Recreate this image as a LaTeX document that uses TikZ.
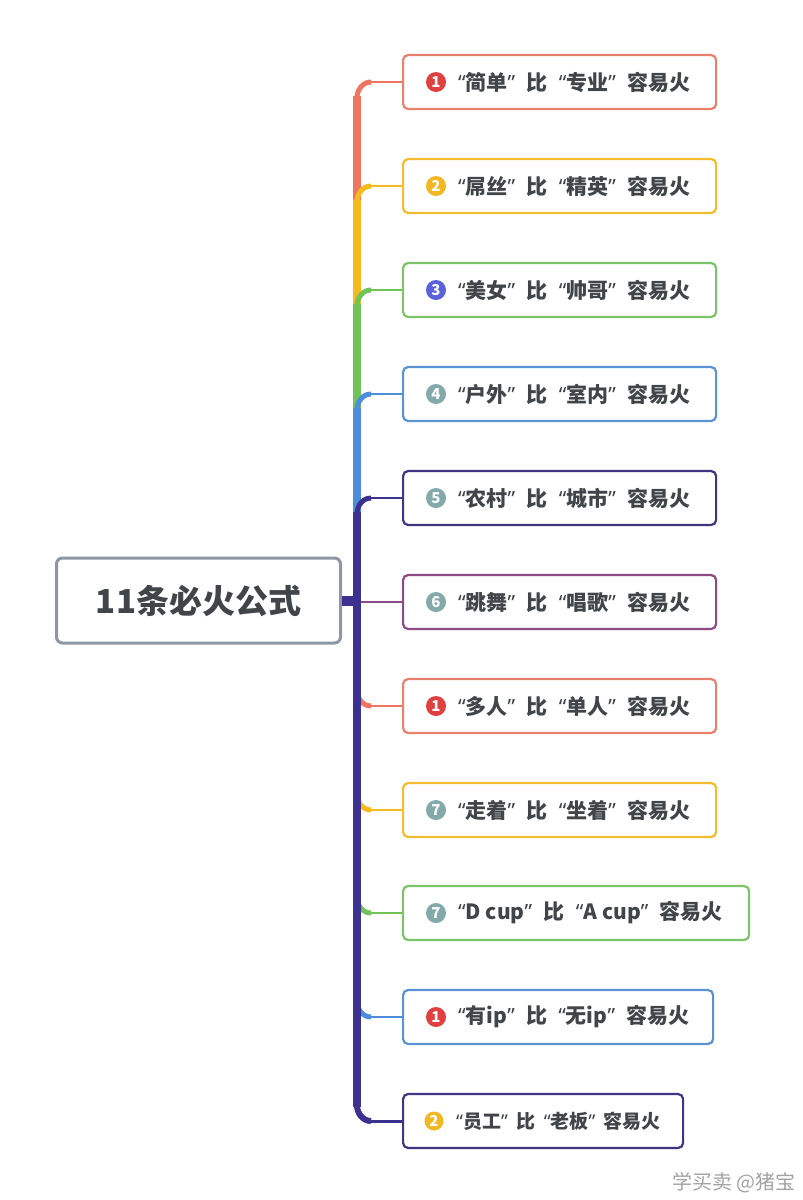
\documentclass[tikz,border=0pt]{standalone}
\usepackage{fontspec}
\setmainfont{Noto Sans CJK SC}
\newfontfamily\qf{Noto Sans}
\newcommand\oq{{\qf\bfseries “}}
\newcommand\cq{{\qf\bfseries ”}}
\newcommand\gp{\hspace{11.3pt}}
\newcommand\gs{\hspace{8.5pt}}
\definecolor{cred}{HTML}{F07560}
\definecolor{cyel}{HTML}{F6BA1A}
\definecolor{cgrn}{HTML}{72C25A}
\definecolor{cblu}{HTML}{4C8EDC}
\definecolor{cind}{HTML}{3D3190}
\definecolor{cmag}{HTML}{8C4A86}
\definecolor{bred}{HTML}{E8806E}
\definecolor{byel}{HTML}{F2BC2F}
\definecolor{bgrn}{HTML}{7DC36A}
\definecolor{bblu}{HTML}{5B93D0}
\definecolor{bind}{HTML}{3F3580}
\definecolor{rootgray}{HTML}{8D97A2}
\definecolor{txt}{HTML}{41454A}
\definecolor{ired}{HTML}{E0403F}
\definecolor{iyel}{HTML}{F2B824}
\definecolor{ivio}{HTML}{5962DB}
\definecolor{iteal}{HTML}{84A9AA}
\definecolor{wm}{HTML}{A3A3A3}
\begin{document}
\begin{tikzpicture}[x=1pt,y=-1pt,
  box/.style={draw=#1, line width=2.2pt, rounded corners=5pt, fill=white, minimum height=54pt, anchor=west, inner sep=0pt},
  icon/.style={circle, fill=#1, text=white, minimum size=20pt, inner sep=0pt, font=\bfseries\fontsize{15}{15}\selectfont},
  lbl/.style={anchor=west, inner sep=0pt, text=txt, font=\bfseries\fontsize{21}{21}\selectfont},
  trunk/.style={line width=8pt, draw=#1},
  bend/.style={line width=5pt, draw=#1},
  twig/.style={line width=2.6pt, draw=#1}]
\useasboundingbox (0,0) rectangle (803,1200);
\fill[white] (0,0) rectangle (803,1200);

% nodes
\node[draw=rootgray, line width=3pt, rounded corners=6pt, minimum width=284pt, minimum height=85pt, anchor=west, inner sep=0pt, fill=white, text=txt, font=\bfseries\fontsize{33}{33}\selectfont] (root) at (55,600.5) {11条必火公式};

\node[box=bred, minimum width=313pt] (b1) at (402,82) {};
\node[box=byel, minimum width=313pt] (b2) at (402,186) {};
\node[box=bgrn, minimum width=313pt] (b3) at (402,290) {};
\node[box=bblu, minimum width=313pt] (b4) at (402,394) {};
\node[box=bind, minimum width=313pt] (b5) at (402,498) {};
\node[box=cmag, minimum width=313pt] (b6) at (402,602) {};
\node[box=bred, minimum width=313pt] (b7) at (402,706) {};
\node[box=byel, minimum width=313pt] (b8) at (402,810) {};
\node[box=bgrn, minimum width=346pt] (b9) at (402,913) {};
\node[box=bblu, minimum width=310pt] (b10) at (402,1017) {};
\node[box=bind, minimum width=280pt] (b11) at (402,1121) {};

\node[icon=ired] (i1) at (436,82) {1};
\node[icon=iyel] (i2) at (436,186) {2};
\node[icon=ivio] (i3) at (436,290) {3};
\node[icon=iteal] (i4) at (436,394) {4};
\node[icon=iteal] (i5) at (436,498) {5};
\node[icon=iteal] (i6) at (436,602) {6};
\node[icon=ired] (i7) at (436,706) {1};
\node[icon=iteal] (i8) at (436,810) {7};
\node[icon=iteal] (i9) at (436,913) {7};
\node[icon=ired] (i10) at (436,1017) {1};
\node[icon=iyel, minimum size=19pt] (i11) at (434,1121) {2};

\node[lbl] (t1) at (458,82) {\oq 简单\cq\gp 比\gp\oq 专业\cq\gp 容易火};
\node[lbl] (t2) at (458,186) {\oq 屌丝\cq\gp 比\gp\oq 精英\cq\gp 容易火};
\node[lbl] (t3) at (458,290) {\oq 美女\cq\gp 比\gp\oq 帅哥\cq\gp 容易火};
\node[lbl] (t4) at (458,394) {\oq 户外\cq\gp 比\gp\oq 室内\cq\gp 容易火};
\node[lbl] (t5) at (458,498) {\oq 农村\cq\gp 比\gp\oq 城市\cq\gp 容易火};
\node[lbl] (t6) at (458,602) {\oq 跳舞\cq\gp 比\gp\oq 唱歌\cq\gp 容易火};
\node[lbl] (t7) at (458,706) {\oq 多人\cq\gp 比\gp\oq 单人\cq\gp 容易火};
\node[lbl] (t8) at (458,810) {\oq 走着\cq\gp 比\gp\oq 坐着\cq\gp 容易火};
\node[lbl] (t9) at (458,913) {\oq D cup\cq\gp 比\gp\oq A cup\cq\gp 容易火};
\node[lbl] (t10) at (458,1017) {\oq 有ip\cq\gp 比\gp\oq 无ip\cq\gp 容易火};
\node[lbl, font=\bfseries\fontsize{19}{19}\selectfont] (t11) at (456,1121) {\oq 员工\cq\gs 比\gs\oq 老板\cq\gs 容易火};

\node[anchor=east, inner sep=0pt, text=wm, font=\fontsize{20}{20}\selectfont] (wmk) at (796,1183) {学买卖 @猪宝};

% coordinates
\coordinate (hub) at (357,600);

% lower branches (below root)
\foreach \y/\c/\b in {706/cred/b7, 810/cyel/b8, 913/cgrn/b9, 1017/cblu/b10}{
  \draw[trunk=\c] (hub) -- (357,\y-14);
  \draw[bend=\c] (357,\y-16) to[out=-90,in=180] (371,\y);
  \draw[twig=\c] (369,\y) -- (\b.west);
}
\draw[trunk=cind] (hub) -- (357,1121-14);
\draw[bend=cind,line width=6pt] (357,1121-16) to[out=-90,in=180] (371,1121);
\draw[twig=cind,line width=3pt] (369,1121) -- (b11.west);

% upper branches
\foreach \y/\c/\b in {82/cred/b1, 186/cyel/b2, 290/cgrn/b3, 394/cblu/b4, 498/cind/b5}{
  \draw[trunk=\c] (hub) -- (357,\y+14);
  \draw[bend=\c] (357,\y+16) to[out=90,in=180] (371,\y);
  \draw[twig=\c] (369,\y) -- (\b.west);
}

% root connector and middle branch
\draw[line width=10pt, draw=cind] (root.east) -- (361,600.5);
\draw[twig=cmag] (361,602) -- (b6.west);
\end{tikzpicture}
\end{document}
